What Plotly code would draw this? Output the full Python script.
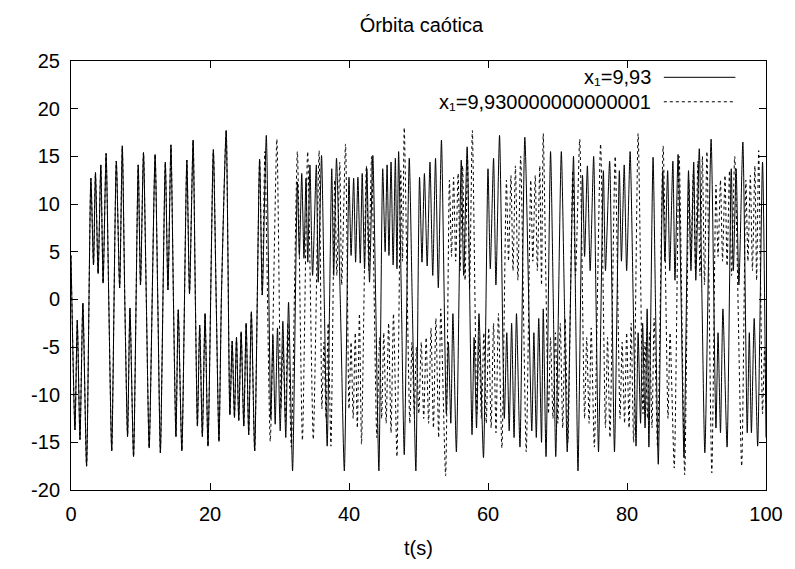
import plotly.graph_objects as go

# ---------------- data (successive extrema) ----------------
# common part of both orbits (they coincide until t ~ 27.5)
shared = [(0.0, 4.6), (0.57, -13.7), (0.9, -2.2), (1.29, -14.7), (1.71, -0.4), (2.24, -17.5),
          (2.86, 12.7), (3.24, 3.6), (3.52, 13.3), (3.9, 2.7), (4.29, 14.1), (4.62, 1.7),
          (5.05, 15.3), (5.45, -0.8), (5.86, -15.9), (6.52, 14.5), (7.0, 1.2), (7.38, 16.1),
          (7.75, -0.5), (8.14, -14.4), (8.48, -0.9), (9.0, -16.5), (9.67, 14.1), (10.0, 1.5),
          (10.43, 15.4), (10.85, -0.6), (11.25, -15.6), (12.1, 15.2), (12.5, -0.8), (12.86, -16.1),
          (13.57, 14.4), (13.95, 1.0), (14.38, 16.2), (14.75, -0.5), (15.1, -14.4), (15.43, -1.1),
          (15.95, -15.9), (16.67, 14.6), (17.05, 0.6), (17.57, 16.7), (17.9, -0.3), (18.19, -13.3),
          (18.52, -2.7), (18.9, -14.4), (19.29, -1.5), (19.71, -15.4), (20.48, 15.7), (20.9, -0.5),
          (21.29, -14.9), (21.65, 0.5), (22.33, 17.7), (22.86, -12.1), (23.19, -4.4), (23.52, -12.4),
          (23.81, -4.0), (24.14, -12.7), (24.48, -3.4), (24.86, -13.3), (25.2, -2.5), (25.57, -14.2),
          (25.95, -1.3), (26.43, -15.9), (27.14, 14.7), (27.52, 0.45)]

# x1 = 9,93 after the orbits separate
solid_after = [(28.1, 17.2), (28.75, -12.5), (29.05, -3.8), (29.38, -13.1), (29.71, -3.0), (30.1, -13.8),
               (30.48, -2.3), (30.9, -14.5), (31.3, -0.3), (31.88, -18.0), (32.57, 12.3), (32.86, 4.6),
               (33.2, 13.2), (33.52, 4.3), (33.81, 12.7), (34.07, 3.9), (34.38, 14.1), (34.76, 2.5),
               (35.3, 14.1), (35.57, 1.8), (36.05, 15.1), (36.45, -0.5), (36.86, -15.4), (37.52, 13.7),
               (37.8, 2.5), (38.2, 14.8), (38.75, -0.2), (39.33, -18.0), (40.0, 12.8), (40.3, 4.6),
               (40.67, 12.7), (40.95, 3.9), (41.28, 12.8), (41.62, 3.8), (41.9, 13.2), (42.24, 3.2),
               (42.57, 13.7), (42.95, 1.8), (43.43, 15.1), (43.85, -0.5), (44.3, -18.0), (44.85, 13.7),
               (45.2, 5.0), (45.48, 14.1), (45.75, 4.6), (46.05, 14.4), (46.35, 3.6), (46.67, 14.8),
               (46.9, 3.2), (47.14, 15.5), (47.55, -0.5), (47.95, -16.3), (48.67, 14.8), (49.1, -0.3),
               (49.62, -18.0), (50.15, 12.8), (50.5, 3.9), (50.85, 13.2), (51.25, 3.5), (51.65, 14.4),
               (52.05, 2.5), (52.45, 14.8), (52.85, 1.2), (53.3, 16.7), (54.0, -12.0), (54.3, -4.5),
               (54.65, -13.0), (54.95, -1.5), (55.45, -16.0), (56.15, 14.6), (56.5, 2.5), (57.0, 16.0),
               (57.7, -14.2), (58.0, -4.0), (58.35, -13.5), (58.7, -1.5), (59.35, -16.6), (60.0, 13.7),
               (60.33, 3.2), (60.8, 14.8), (61.14, 1.5), (61.66, 17.2), (62.35, -12.5), (62.7, -3.5),
               (63.05, -13.8), (63.4, -2.5), (63.75, -14.5), (64.1, -1.5), (64.6, -15.5), (65.3, 17.0),
               (66.3, -13.8), (66.6, -3.5), (66.95, -14.5), (67.3, -2.0), (67.7, -15.0), (67.95, -1.0),
               (68.35, -16.5), (69.0, 15.5), (69.4, -0.5), (69.75, -16.5), (70.55, 15.5), (71.0, -0.5),
               (71.4, -16.0), (72.3, 15.0), (72.6, -0.5), (72.95, -18.0), (73.6, 13.0), (73.9, 4.5),
               (74.3, 14.0), (74.7, 3.0), (75.2, 15.0), (75.55, -0.5), (75.9, -16.0), (76.6, 13.5),
               (76.9, 3.0), (77.5, 14.5), (77.85, -0.5), (78.2, -16.0), (78.9, 13.5), (79.2, 4.0),
               (79.6, 14.1), (79.95, 3.0), (80.45, 15.5), (80.9, -0.5), (81.3, -15.4), (81.6, -3.5),
               (81.95, -13.0), (82.25, -2.5), (82.6, -13.5), (82.9, -1.0), (83.15, -15.5), (83.75, 14.9),
               (84.1, -0.5), (84.5, -17.3), (85.15, 13.5), (85.45, 4.0), (85.85, 13.5), (86.15, 3.0),
               (86.6, 14.5), (86.9, 2.0), (87.35, 15.2), (87.8, -0.5), (88.2, -16.6), (88.85, 13.5),
               (89.2, 3.0), (89.6, 14.4), (89.9, 2.0), (90.4, 15.8), (90.8, -0.5), (91.2, -16.1),
               (92.1, 16.8), (92.8, -13.5), (93.1, -3.5), (93.45, -14.0), (93.8, -1.0), (94.4, -15.5),
               (95.0, 13.7), (95.3, 3.0), (95.7, 13.7), (96.1, 1.5), (96.67, 16.5), (97.3, -14.0),
               (97.6, -3.5), (97.9, -14.0), (98.3, -2.0), (98.8, -15.4), (99.5, 14.4), (100.0, -14.5)]

# x1 = 9,930000000000001 after the orbits separate
dotted_after = [(27.9, 15.5), (28.67, -14.9), (29.62, 16.8), (30.2, -11.5), (30.5, -4.5), (30.85, -12.8),
                (31.2, -2.5), (31.7, -15.5), (32.57, 15.5), (33.3, -14.8), (34.05, 15.5), (34.86, -14.7),
                (35.7, 15.6), (36.1, -11.5), (36.4, -4.5), (36.7, -12.5), (37.0, -2.5), (37.4, -15.4),
                (37.95, 12.5), (38.25, 2.5), (38.67, 14.4), (38.95, 1.5), (39.5, 16.3), (40.0, -11.5),
                (40.3, -4.5), (40.6, -12.5), (40.9, -3.5), (41.2, -13.5), (41.5, -1.5), (41.8, -15.2),
                (42.5, 14.0), (42.85, 3.0), (43.25, 15.0), (44.0, -14.5), (44.4, -4.0), (44.7, -12.5),
                (45.0, -3.5), (45.35, -13.0), (45.7, -2.5), (46.05, -14.0), (46.4, -1.5), (46.9, -16.5),
                (47.45, 13.5), (47.7, 4.0), (47.95, 18.0), (48.75, -13.0), (49.05, -4.5), (49.4, -12.0),
                (49.7, -5.0), (50.05, -12.0), (50.4, -4.5), (50.75, -12.5), (51.1, -4.0), (51.45, -13.0),
                (51.8, -3.0), (52.15, -13.5), (52.5, -2.0), (52.9, -14.5), (53.2, -1.0), (53.9, -18.5),
                (54.45, 12.5), (54.75, 4.5), (55.05, 12.8), (55.35, 4.0), (55.7, 13.2), (56.0, 3.0),
                (56.35, 14.0), (56.7, 2.0), (57.05, 15.0), (57.35, 1.0), (57.75, 17.7), (58.4, -12.0),
                (58.7, -4.0), (59.05, -12.5), (59.4, -3.5), (59.75, -13.0), (60.1, -3.0), (60.45, -13.5),
                (60.8, -2.5), (61.15, -14.0), (61.5, -1.5), (62.0, -15.6), (62.65, 12.5), (62.95, 4.0),
                (63.3, 13.0), (63.6, 3.0), (63.95, 14.0), (64.3, 2.0), (64.7, 15.0), (65.5, -16.0),
                (66.15, 12.5), (66.45, 4.0), (66.8, 13.0), (67.1, 3.0), (67.45, 14.0), (67.7, 1.5),
                (67.95, 17.4), (68.7, -12.0), (69.0, -4.0), (69.35, -12.5), (69.7, -3.5), (70.05, -13.0),
                (70.4, -2.5), (70.75, -13.5), (71.1, -2.0), (71.5, -15.0), (72.2, 13.5), (72.6, 2.5),
                (73.2, 16.8), (73.9, -12.5), (74.2, -4.0), (74.55, -13.0), (74.85, -3.0), (75.3, -15.5),
                (76.2, 16.3), (76.9, -13.5), (77.2, -4.0), (77.55, -14.5), (78.3, 15.0), (79.0, -12.5),
                (79.3, -4.5), (79.65, -13.0), (79.95, -3.5), (80.3, -13.5), (80.6, -2.5), (80.95, -15.0),
                (81.6, 17.4), (82.3, -12.0), (82.6, -4.5), (82.95, -12.5), (83.25, -3.5), (83.6, -13.5),
                (83.9, -2.0), (84.4, -15.5), (85.2, 16.1), (85.9, -12.5), (86.2, -3.5), (86.8, -17.7),
                (87.5, 15.0), (88.3, -18.4), (88.9, 12.5), (89.2, 4.0), (89.55, 13.5), (89.85, 3.0),
                (90.2, 14.5), (90.5, 2.5), (90.85, 15.0), (91.15, 1.5), (91.5, 15.5), (92.2, -18.2),
                (92.8, 12.0), (93.1, 4.5), (93.45, 12.5), (93.75, 4.0), (94.1, 13.0), (94.4, 3.5),
                (94.75, 13.5), (95.05, 2.5), (95.5, 15.0), (96.5, -17.5), (97.1, 12.5), (97.4, 4.0),
                (97.75, 13.0), (98.05, 3.0), (98.4, 14.0), (98.65, 2.0), (98.95, 15.6), (99.5, -12.0),
                (99.8, -5.0), (100.0, -11.0)]

x_ticks = [0, 20, 40, 60, 80, 100]
y_ticks = [-20, -15, -10, -5, 0, 5, 10, 15, 20, 25]
y_labels = ["-20", "-15", "-10", "-5", "0", "5", "10", "15", "20", "25"]
title_text = "Órbita caótica"
xlabel_text = "t(s)"
legend_labels = ["x₁=9,93", "x₁=9,930000000000001"]

# ---------------- build series ----------------
solid = shared + solid_after
dotted = shared + dotted_after

FONT = "Liberation Sans, Arial, sans-serif"
FS = 20

fig = go.Figure()
fig.add_trace(go.Scatter(x=[p[0] for p in dotted], y=[p[1] for p in dotted], mode="lines",
                         line=dict(color="black", width=1, dash="dot", shape="spline", smoothing=0.6),
                         name="x1=9,930000000000001", showlegend=False))
fig.add_trace(go.Scatter(x=[p[0] for p in solid], y=[p[1] for p in solid], mode="lines",
                         line=dict(color="black", width=1, shape="spline", smoothing=0.6),
                         name="x1=9,93", showlegend=False))

axis_common = dict(showgrid=False, zeroline=False, showline=True, linecolor="black", linewidth=1,
                   mirror="allticks", ticks="inside", ticklen=7, tickcolor="black", tickwidth=1,
                   tickfont=dict(family=FONT, size=FS, color="black"))

fig.update_layout(
    width=795, height=569,
    margin=dict(l=71, r=24, t=61, b=79),
    paper_bgcolor="white", plot_bgcolor="white",
    title=dict(text=title_text, x=0.53, xanchor="center", y=1 - 25 / 569, yanchor="middle",
               font=dict(family=FONT, size=FS, color="black")),
    xaxis=dict(range=[0, 100], tickvals=x_ticks, ticklabelstandoff=6,
               title=dict(text=xlabel_text, font=dict(family=FONT, size=FS, color="black"), standoff=16),
               **axis_common),
    yaxis=dict(range=[-20, 25], tickvals=y_ticks, ticktext=y_labels, ticklabelstandoff=6, **axis_common),
    showlegend=False,
)

# gnuplot-style key: right-justified text followed by a line sample
key_rows = [(0.962, "solid"), (0.905, "dot")]
for (ky, dash), label in zip(key_rows, legend_labels):
    fig.add_annotation(xref="x domain", yref="y domain", x=0.836, y=ky, text=label, showarrow=False,
                       xanchor="right", yanchor="middle", borderpad=0,
                       font=dict(family=FONT, size=FS, color="black"))
    fig.add_shape(type="line", xref="x domain", yref="y domain", x0=0.853, x1=0.956, y0=ky, y1=ky,
                  line=dict(color="black", width=1, dash=dash))

fig.write_html("out.html")
